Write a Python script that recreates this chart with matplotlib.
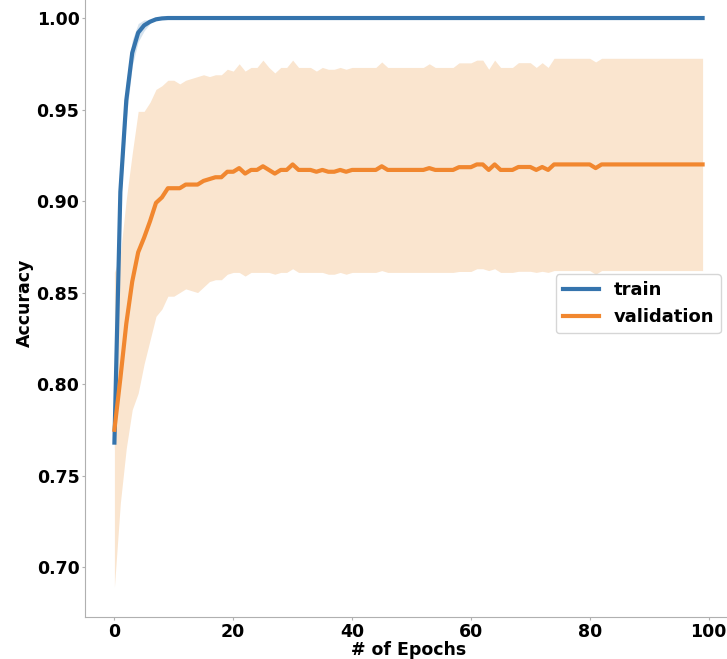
import matplotlib
matplotlib.use("Agg")
import matplotlib.pyplot as plt
import numpy as np

# Mean accuracy per epoch and its spread.
epochs = list(range(100))

train_mean = [0.768, 0.905, 0.955, 0.981, 0.992, 0.996, 0.998, 0.9993, 0.9998] + [1.0] * 91
train_std = [0.004, 0.008, 0.010, 0.007, 0.005, 0.003, 0.001] + [0.0] * 93

val_mean = [
    0.775, 0.803, 0.833, 0.856, 0.872, 0.880, 0.889, 0.899, 0.902, 0.907,
    0.907, 0.907, 0.909, 0.909, 0.909, 0.911, 0.912, 0.913, 0.913, 0.916,
    0.916, 0.918, 0.915, 0.917, 0.917, 0.919, 0.917, 0.915, 0.917, 0.917,
    0.920, 0.917, 0.917, 0.917, 0.916, 0.917, 0.916, 0.916, 0.917, 0.916,
    0.917, 0.917, 0.917, 0.917, 0.917, 0.919, 0.917, 0.917, 0.917, 0.917,
    0.917, 0.917, 0.917, 0.918, 0.917, 0.917, 0.917, 0.917, 0.9185, 0.9185,
    0.9185, 0.920, 0.920, 0.917, 0.920, 0.917, 0.917, 0.917, 0.9186, 0.9186,
    0.9186, 0.917, 0.9186, 0.917, 0.920, 0.920, 0.920, 0.920, 0.920, 0.920,
    0.920, 0.918, 0.920, 0.920, 0.920, 0.920, 0.920, 0.920, 0.920, 0.920,
    0.920, 0.920, 0.920, 0.920, 0.920, 0.920, 0.920, 0.920, 0.920, 0.920,
]
val_std = [
    0.086, 0.068, 0.068, 0.070, 0.077, 0.069, 0.065, 0.062, 0.061, 0.059,
    0.059, 0.057, 0.057, 0.058, 0.059, 0.058, 0.056, 0.056, 0.056, 0.056,
    0.055, 0.057, 0.056, 0.056, 0.056, 0.058, 0.056, 0.055, 0.056, 0.056,
    0.057, 0.056, 0.056, 0.056, 0.055, 0.056, 0.056, 0.056, 0.056, 0.056,
    0.056, 0.056, 0.056, 0.056, 0.056, 0.057, 0.056, 0.056, 0.056, 0.056,
    0.056, 0.056, 0.056, 0.057, 0.056, 0.056, 0.056, 0.056, 0.057, 0.057,
    0.057, 0.057, 0.057, 0.055, 0.057, 0.056, 0.056, 0.056, 0.057, 0.057,
    0.057, 0.056, 0.057, 0.056, 0.058, 0.058, 0.058, 0.058, 0.058, 0.058,
    0.058, 0.058, 0.058, 0.058, 0.058, 0.058, 0.058, 0.058, 0.058, 0.058,
    0.058, 0.058, 0.058, 0.058, 0.058, 0.058, 0.058, 0.058, 0.058, 0.058,
]

blue = "#3574ad"
orange = "#f1872f"
fill_orange = "#fae5cf"

fig = plt.figure(figsize=(7.27, 6.59), dpi=100)
# axes reaches a bit past the top and right edge, like the cropped original
ax = fig.add_axes([85 / 727, 42 / 659, 647 / 727, 627.7 / 659])

x = np.array(epochs)
tm, ts = np.array(train_mean), np.array(train_std)
vm, vs = np.array(val_mean), np.array(val_std)

ax.fill_between(x, tm - ts, tm + ts, color=blue, alpha=0.2, lw=0)
ax.fill_between(x, vm - vs, vm + vs, color=fill_orange, lw=0)
ax.plot(x, tm, color=blue, lw=3, label="train")
ax.plot(x, vm, color=orange, lw=3, label="validation")

ax.set_xlim(-4.95, 103.95)
ax.set_ylim(0.6727, 1.0157)
ax.set_xticks([0, 20, 40, 60, 80, 100])
ax.set_yticks([0.70, 0.75, 0.80, 0.85, 0.90, 0.95, 1.00])
ax.yaxis.set_major_formatter(matplotlib.ticker.FormatStrFormatter("%.2f"))
ax.tick_params(length=2.5, width=0.8, color="#b0b0b0", labelsize=12.5, pad=1.5)
for lab in ax.get_xticklabels() + ax.get_yticklabels():
    lab.set_fontweight("bold")

ax.set_xlabel("# of Epochs", fontsize=12.5, fontweight="bold", labelpad=0)
ax.set_ylabel("Accuracy", fontsize=12.5, fontweight="bold", labelpad=2)

for side in ["top", "right"]:
    ax.spines[side].set_visible(False)
for side in ["left", "bottom"]:
    ax.spines[side].set_color("#b0b0b0")

ax.legend(
    loc="upper right",
    bbox_to_anchor=(0.983, 0.5465),
    borderaxespad=0,
    prop={"size": 13, "weight": "bold"},
    frameon=True,
)

fig.savefig("out.png", dpi=100)
